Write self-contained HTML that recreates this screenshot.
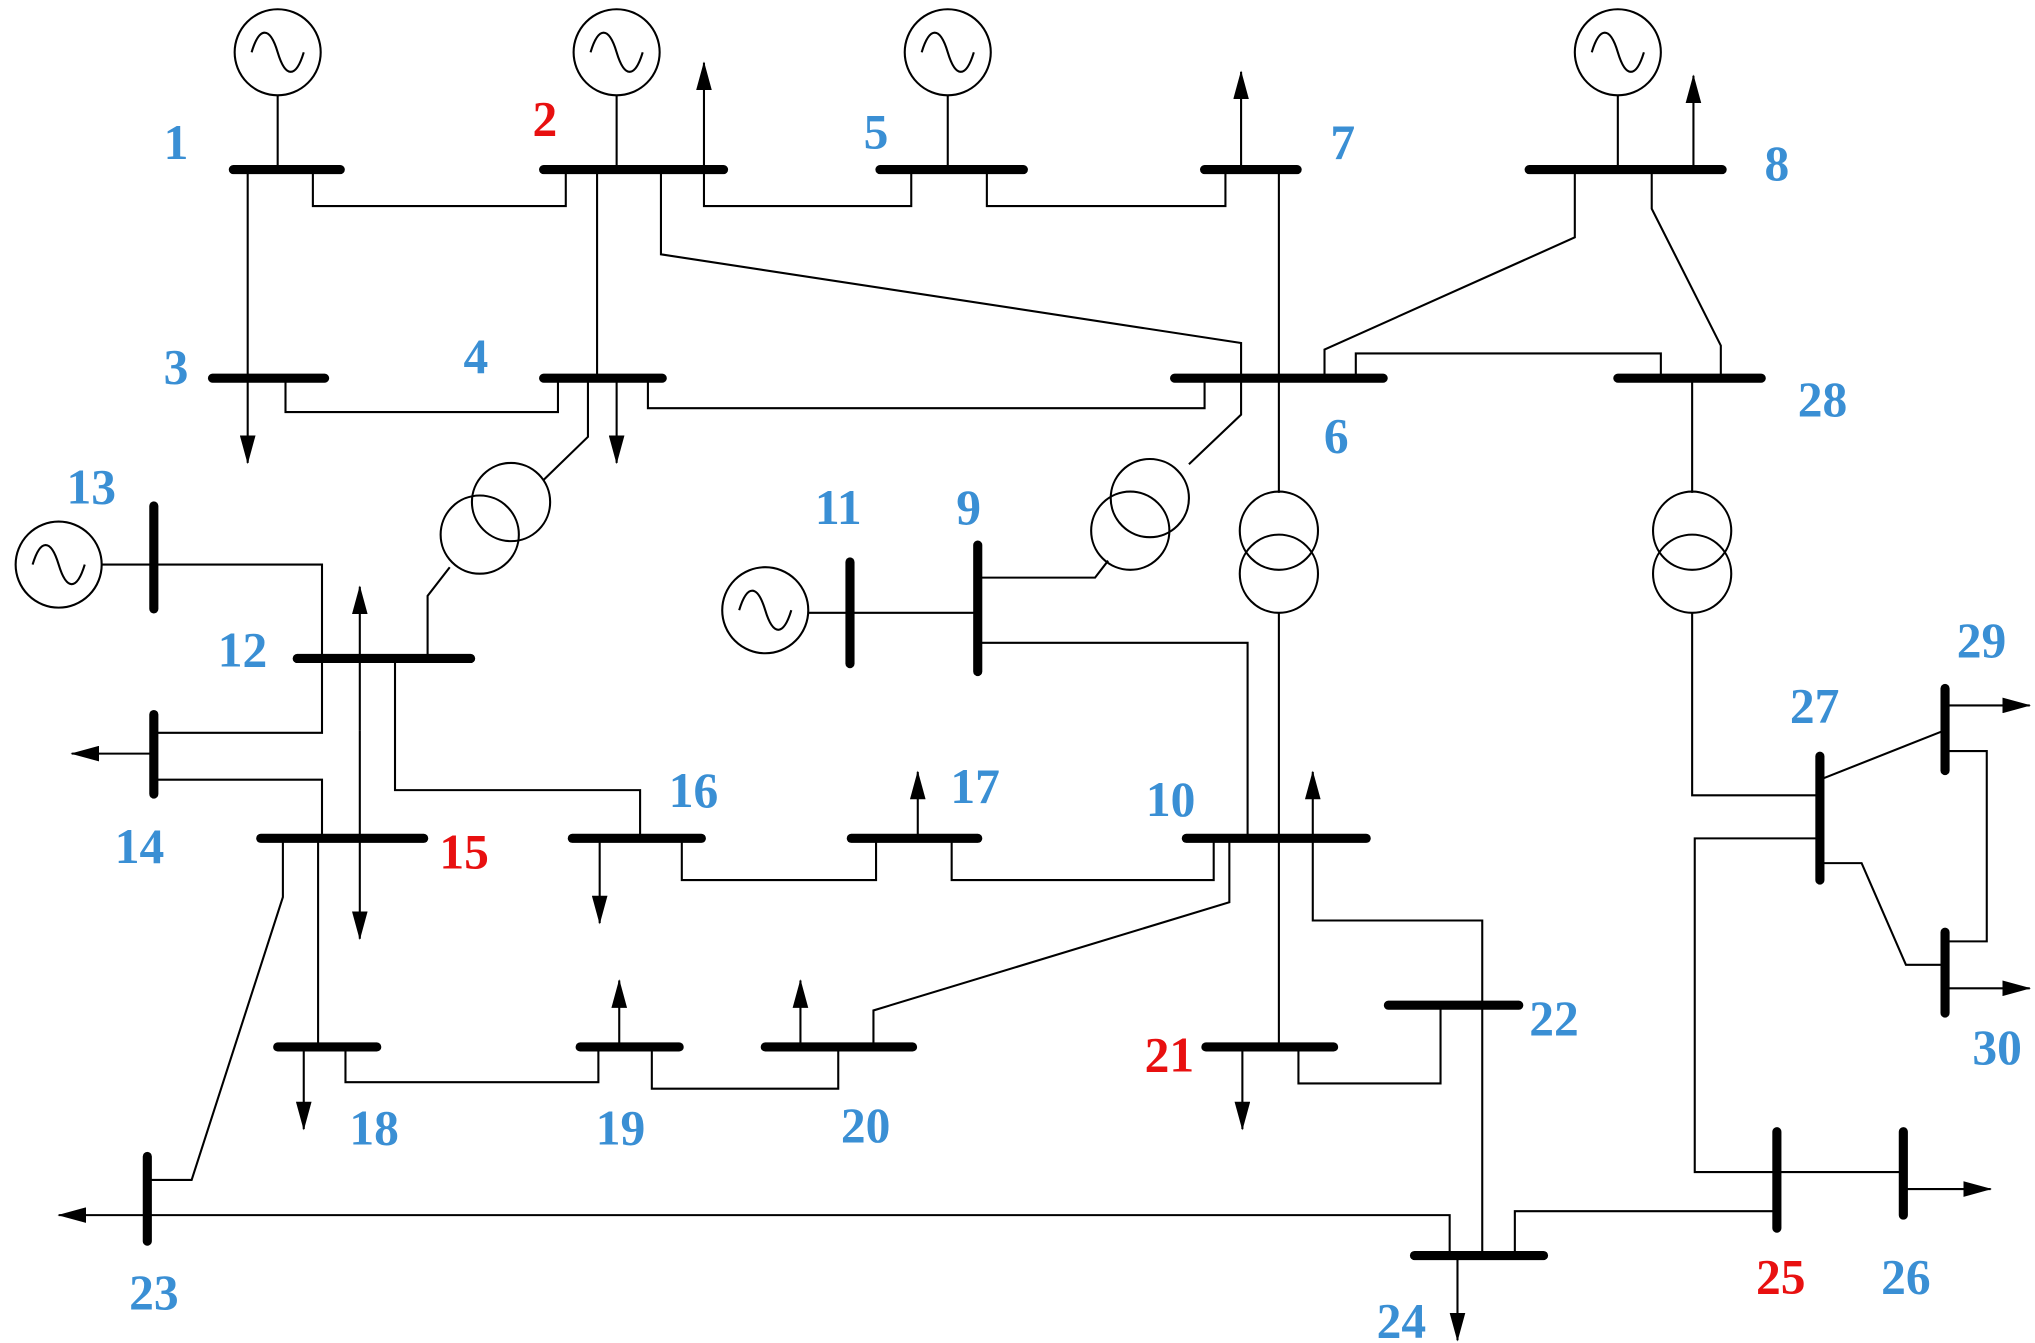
<!DOCTYPE html>
<html><head><meta charset="utf-8"><style>html,body{margin:0;padding:0;background:#fff}svg{display:block}</style></head>
<body>
<svg width="2035" height="1343" viewBox="0 0 1561 1030" xmlns="http://www.w3.org/2000/svg">
<defs>
<marker id="ar" viewBox="0 0 22 12" refX="21" refY="6" markerWidth="22" markerHeight="12" orient="auto" markerUnits="userSpaceOnUse"><path d="M0,0 L22,6 L0,12 Z" fill="#000"/></marker>
<path id="sw" d="M-20,0 C-14,-20 -6,-20 0,0 C6,20 14,20 20,0"/>
</defs>
<g fill="none" stroke="#000" stroke-width="1.6">
<!-- generators -->
<circle cx="213" cy="40" r="33"/><line x1="213" y1="73" x2="213" y2="130"/><use href="#sw" x="213" y="40"/>
<circle cx="473" cy="40" r="33"/><line x1="473" y1="73" x2="473" y2="130"/><use href="#sw" x="473" y="40"/>
<circle cx="727" cy="40" r="33"/><line x1="727" y1="73" x2="727" y2="130"/><use href="#sw" x="727" y="40"/>
<circle cx="1241" cy="40" r="33"/><line x1="1241" y1="73" x2="1241" y2="130"/><use href="#sw" x="1241" y="40"/>
<circle cx="45" cy="433" r="33"/><line x1="78" y1="433" x2="118" y2="433"/><use href="#sw" x="45" y="433"/>
<circle cx="587" cy="468" r="33"/><line x1="620" y1="470" x2="750" y2="470"/><use href="#sw" x="587" y="468"/>
<!-- lines -->
<polyline points="190,130 190,290"/>
<polyline points="240,130 240,158 434,158 434,130"/>
<polyline points="458,130 458,290"/>
<polyline points="540,130 540,158 699,158 699,130"/>
<polyline points="507,130 507,195 952,263 952,290"/>
<polyline points="757,130 757,158 940,158 940,130"/>
<polyline points="981,130 981,378"/>
<polyline points="981,470 981,803"/>
<polyline points="1208,130 1208,182 1016,268 1016,290"/>
<polyline points="1267,130 1267,160 1320,265 1320,290"/>
<polyline points="219,290 219,316 428,316 428,290"/>
<polyline points="497,290 497,313 924,313 924,290"/>
<polyline points="451,290 451,335 417,368"/>
<polyline points="345,435 328,457 328,505"/>
<polyline points="1040,290 1040,271 1274,271 1274,290"/>
<polyline points="952,290 952,318 912,356"/>
<polyline points="850,430 840,443 750,443"/>
<polyline points="1298,290 1298,378"/>
<polyline points="1298,470 1298,610 1396,610"/>
<polyline points="118,433 247,433 247,562 118,562"/>
<polyline points="118,598 247,598 247,643"/>
<polyline points="303,505 303,606 491,606 491,643"/>
<polyline points="217,643 217,688 147,905 113,905"/>
<polyline points="244,643 244,803"/>
<polyline points="523,643 523,675 672,675 672,643"/>
<polyline points="730,643 730,675 931,675 931,643"/>
<polyline points="957,643 957,493 750,493"/>
<polyline points="943,643 943,692 670,775 670,803"/>
<polyline points="1007,643 1007,706 1137,706 1137,963"/>
<polyline points="265,803 265,830 459,830 459,803"/>
<polyline points="500,803 500,835 643,835 643,803"/>
<polyline points="996,803 996,831 1105,831 1105,771"/>
<polyline points="113,932 1112,932 1112,963"/>
<polyline points="1162,963 1162,929 1363,929"/>
<polyline points="1363,899 1460,899"/>
<polyline points="1363,899 1300,899 1300,643 1396,643"/>
<polyline points="1396,598 1492,560"/>
<polyline points="1396,662 1428,662 1462,740 1492,740"/>
<polyline points="1492,576 1524,576 1524,722 1492,722"/>
<!-- transformers -->
<circle cx="392" cy="385" r="30"/><circle cx="368" cy="410" r="30"/>
<circle cx="882" cy="382" r="30"/><circle cx="867" cy="407" r="30"/>
<circle cx="981" cy="407" r="30"/><circle cx="981" cy="440" r="30"/>
<circle cx="1298" cy="407" r="30"/><circle cx="1298" cy="440" r="30"/>
<!-- arrows -->
<g marker-end="url(#ar)">
<line x1="190" y1="290" x2="190" y2="355"/>
<line x1="540" y1="130" x2="540" y2="48"/>
<line x1="952" y1="130" x2="952" y2="55"/>
<line x1="1299" y1="130" x2="1299" y2="58"/>
<line x1="473" y1="290" x2="473" y2="355"/>
<line x1="118" y1="578" x2="55" y2="578"/>
<line x1="276" y1="560" x2="276" y2="450"/>
<line x1="276" y1="560" x2="276" y2="720"/>
<line x1="460" y1="643" x2="460" y2="708"/>
<line x1="704" y1="643" x2="704" y2="592"/>
<line x1="1007" y1="643" x2="1007" y2="592"/>
<line x1="233" y1="803" x2="233" y2="866"/>
<line x1="475" y1="803" x2="475" y2="752"/>
<line x1="614" y1="803" x2="614" y2="752"/>
<line x1="953" y1="803" x2="953" y2="866"/>
<line x1="113" y1="932" x2="45" y2="932"/>
<line x1="1118" y1="963" x2="1118" y2="1028"/>
<line x1="1460" y1="912" x2="1527" y2="912"/>
<line x1="1492" y1="541" x2="1557" y2="541"/>
<line x1="1492" y1="758" x2="1557" y2="758"/>
</g>
</g>
<!-- buses -->
<g stroke="#000" stroke-width="7" stroke-linecap="round">
<line x1="179" y1="130" x2="261" y2="130"/>
<line x1="417" y1="130" x2="555" y2="130"/>
<line x1="675" y1="130" x2="785" y2="130"/>
<line x1="924" y1="130" x2="995" y2="130"/>
<line x1="1173" y1="130" x2="1321" y2="130"/>
<line x1="163" y1="290" x2="249" y2="290"/>
<line x1="417" y1="290" x2="508" y2="290"/>
<line x1="901" y1="290" x2="1061" y2="290"/>
<line x1="1241" y1="290" x2="1351" y2="290"/>
<line x1="118" y1="388" x2="118" y2="467"/>
<line x1="228" y1="505" x2="361" y2="505"/>
<line x1="118" y1="548" x2="118" y2="609"/>
<line x1="200" y1="643" x2="325" y2="643"/>
<line x1="439" y1="643" x2="538" y2="643"/>
<line x1="653" y1="643" x2="750" y2="643"/>
<line x1="910" y1="643" x2="1048" y2="643"/>
<line x1="652" y1="431" x2="652" y2="509"/>
<line x1="750" y1="418" x2="750" y2="515"/>
<line x1="213" y1="803" x2="289" y2="803"/>
<line x1="445" y1="803" x2="521" y2="803"/>
<line x1="587" y1="803" x2="700" y2="803"/>
<line x1="925" y1="803" x2="1023" y2="803"/>
<line x1="1065" y1="771" x2="1165" y2="771"/>
<line x1="113" y1="887" x2="113" y2="952"/>
<line x1="1085" y1="963" x2="1184" y2="963"/>
<line x1="1363" y1="868" x2="1363" y2="942"/>
<line x1="1460" y1="868" x2="1460" y2="932"/>
<line x1="1396" y1="580" x2="1396" y2="675"/>
<line x1="1492" y1="528" x2="1492" y2="591"/>
<line x1="1492" y1="715" x2="1492" y2="777"/>
</g>
<g font-family="Liberation Serif, serif" font-weight="bold" font-size="38" fill="#3a8fd4" text-anchor="middle">
<text x="135" y="122">1</text>
<text x="418" y="104" fill="#e81010">2</text>
<text x="672" y="114">5</text>
<text x="1030" y="122">7</text>
<text x="1363" y="138">8</text>
<text x="135" y="294">3</text>
<text x="365" y="286">4</text>
<text x="1025" y="347">6</text>
<text x="1398" y="319">28</text>
<text x="70" y="386">13</text>
<text x="643" y="402">11</text>
<text x="743" y="402">9</text>
<text x="186" y="511">12</text>
<text x="107" y="662">14</text>
<text x="356" y="666" fill="#e81010">15</text>
<text x="532" y="619">16</text>
<text x="748" y="616">17</text>
<text x="898" y="626">10</text>
<text x="1392" y="554">27</text>
<text x="1520" y="504">29</text>
<text x="1532" y="816">30</text>
<text x="287" y="878">18</text>
<text x="476" y="878">19</text>
<text x="664" y="876">20</text>
<text x="897" y="822" fill="#e81010">21</text>
<text x="1192" y="794">22</text>
<text x="118" y="1004">23</text>
<text x="1075" y="1026">24</text>
<text x="1366" y="992" fill="#e81010">25</text>
<text x="1462" y="992">26</text>
</g>
</svg>
</body></html>
